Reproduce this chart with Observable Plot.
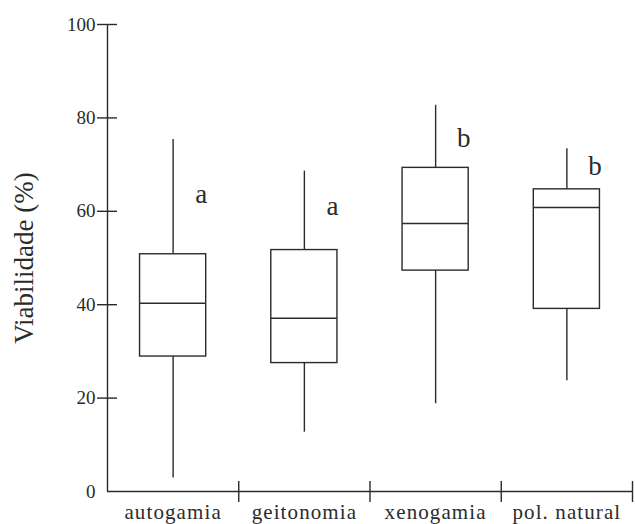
<!DOCTYPE html>
<html>
<head>
<meta charset="utf-8">
<script src="https://cdn.jsdelivr.net/npm/d3@7"></script>
<script src="https://cdn.jsdelivr.net/npm/@observablehq/plot@0.6"></script>
<style>
  html, body { margin: 0; padding: 0; background: #fff; }
  svg text { font-family: "Liberation Serif", "Times New Roman", Times, Tinos, "DejaVu Serif", serif !important; }
  .catlabel text { letter-spacing: 1.1px; }
</style>
</head>
<body>
<div id="chart"></div>
<script>
const categories = ["autogamia", "geitonomia", "xenogamia", "pol. natural"];
const whiskerLow  = [2.9, 12.7, 18.8, 23.7];
const q1          = [28.9, 27.5, 47.3, 39.1];
const median      = [40.3, 37.1, 57.4, 60.8];
const q3          = [50.8, 51.7, 69.3, 64.7];
const whiskerHigh = [75.4, 68.6, 82.7, 73.4];
const letters     = ["a", "a", "b", "b"];
const letterY     = [61.7, 59.2, 73.7, 67.7];
const yTicks      = [0, 20, 40, 60, 80, 100];
const yTickLabels = ["0", "20", "40", "60", "80", "100"];
const yLabel = "Viabilidade (%)";

const data = categories.map((c, i) => ({
  i, c, low: whiskerLow[i], q1: q1[i], med: median[i], q3: q3[i], high: whiskerHigh[i],
  letter: letters[i], ly: letterY[i]
}));

const font = "Liberation Serif, Times New Roman, Times, Tinos, DejaVu Serif, serif";
const ink = "#2b2b2b";
const half = 0.252;

const chart = Plot.plot({
  width: 635,
  height: 524,
  marginTop: 24,
  marginBottom: 33,
  marginLeft: 107,
  marginRight: 3,
  style: { background: "#fff", color: ink },
  x: { domain: [0, 4], axis: null },
  y: { domain: [0, 100], axis: null },
  marks: [
    Plot.ruleX([0], { y1: 0, y2: 100, stroke: ink, strokeWidth: 1.4 }),
    Plot.ruleY([0], { x1: 0, x2: 4, stroke: ink, strokeWidth: 1.4 }),
    Plot.axisY({ ticks: yTicks.filter(d => d > 0), tickSize: 20, dx: 10, tickFormat: () => "", stroke: ink, strokeWidth: 1.4, label: null }),
    Plot.axisY({ ticks: yTicks, tickSize: 0, tickPadding: 12, tickFormat: d => yTickLabels[yTicks.indexOf(d)], fontSize: 19, fontFamily: font, fill: ink, label: null }),
    Plot.axisX({ ticks: [1, 2, 3, 4], tickSize: 21, dy: -10, tickFormat: () => "", stroke: ink, strokeWidth: 1.4, label: null }),
    Plot.ruleX(data, { x: d => d.i + 0.5, y1: "q3", y2: "high", stroke: ink, strokeWidth: 1.4 }),
    Plot.ruleX(data, { x: d => d.i + 0.5, y1: "low", y2: "q1", stroke: ink, strokeWidth: 1.4 }),
    Plot.rect(data, { x1: d => d.i + 0.5 - half, x2: d => d.i + 0.5 + half, y1: "q1", y2: "q3", fill: "none", stroke: ink, strokeWidth: 1.4 }),
    Plot.ruleY(data, { y: "med", x1: d => d.i + 0.5 - half, x2: d => d.i + 0.5 + half, stroke: ink, strokeWidth: 1.4 }),
    Plot.text(data, { x: d => d.i + 0.5, y: "ly", text: "letter", dx: 28, lineAnchor: "bottom", fontSize: 27, fontFamily: font, fill: ink }),
    Plot.text(data, { x: d => d.i + 0.5, y: () => 0, text: "c", dy: 27, lineAnchor: "bottom", fontSize: 21, fontFamily: font, fill: ink, className: "catlabel" }),
    Plot.text([yLabel], { frameAnchor: "left", dx: -83, rotate: -90, fontSize: 27, fontFamily: font, fill: ink, textAnchor: "middle", lineAnchor: "middle" })
  ]
});

document.getElementById("chart").appendChild(chart);
</script>
</body>
</html>
